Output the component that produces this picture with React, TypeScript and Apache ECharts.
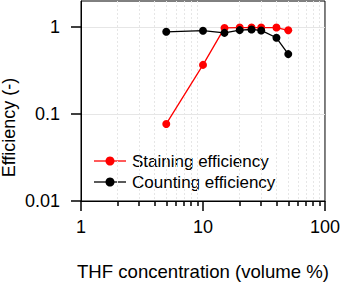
import React, { useEffect, useRef } from "react";
import * as echarts from "echarts";

const xValues = [5, 10, 15, 20, 25, 30, 40, 50];
const stainingEfficiency = [0.077, 0.368, 0.98, 0.99, 0.99, 0.99, 0.99, 0.92];
const countingEfficiency = [0.885, 0.91, 0.86, 0.924, 0.94, 0.917, 0.755, 0.49];
const xMajorTicks = [1, 10, 100];
const xMinorTicks = [2, 3, 4, 5, 6, 7, 8, 9, 20, 30, 40, 50, 60, 70, 80, 90];
const yTicks = [0.01, 0.1, 1];
const seriesNames = ["Staining efficiency", "Counting efficiency"];
const seriesColors = ["#ff0000", "#000000"];

const FONT = "'Liberation Sans', Arial, Helvetica, sans-serif";

export default function App() {
  const ref = useRef<HTMLDivElement>(null);
  useEffect(() => {
    if (!ref.current) return;
    const chart = echarts.init(ref.current, null, { renderer: "svg" });
    const pairs = (ys: number[]) => xValues.map((x, i) => [x, ys[i]]);

    const legendLeft = 94;
    const legendTop = 161;
    const legendRow = 21;
    const legendGraphics: any[] = [];
    seriesNames.forEach((name, i) => {
      const cy = legendTop + i * legendRow;
      legendGraphics.push(
        {
          type: "line",
          shape: { x1: legendLeft, y1: cy, x2: legendLeft + 32, y2: cy },
          style: { stroke: seriesColors[i], lineWidth: 1.3 },
        },
        {
          type: "circle",
          shape: { cx: legendLeft + 16, cy, r: 4.5 },
          style: { fill: seriesColors[i] },
        },
        {
          type: "text",
          x: legendLeft + 38,
          y: cy,
          style: {
            text: name,
            font: `17px ${FONT}`,
            fill: "#000",
            textAlign: "left",
            textVerticalAlign: "middle",
          },
        }
      );
    });

    chart.setOption({
      animation: false,
      backgroundColor: "#ffffff",
      textStyle: { fontFamily: FONT },
      grid: {
        left: 81,
        right: 17,
        top: 1,
        bottom: 83,
        show: true,
        borderColor: "#000000",
        borderWidth: 1,
      },
      xAxis: [
        {
          type: "log",
          logBase: 10,
          min: 1,
          max: 100,
          position: "bottom",
          axisLine: { show: true, onZero: false, lineStyle: { color: "#000", width: 1 } },
          axisTick: { show: true, length: 10, customValues: xMajorTicks, lineStyle: { color: "#000", width: 1.5 } },
          axisLabel: {
            customValues: xMajorTicks,
            fontSize: 18,
            color: "#000",
            margin: 17,
            fontFamily: FONT,
            formatter: (v: number) => String(v),
          },
          splitLine: { show: false },
          minorTick: { show: false },
          name: "THF concentration (volume %)",
          nameLocation: "middle",
          nameGap: 61,
          nameTextStyle: { fontSize: 18.6, color: "#000", fontFamily: FONT },
        },
        {
          type: "log",
          logBase: 10,
          min: 1,
          max: 100,
          position: "bottom",
          axisLine: { show: false, onZero: false },
          axisTick: { show: true, length: 5, customValues: xMinorTicks, lineStyle: { color: "#000", width: 1.5 } },
          axisLabel: { show: false },
          splitLine: { show: true, lineStyle: { color: "#e6e6e6", width: 1, type: [2, 2] } },
        },
      ],
      yAxis: {
        type: "log",
        logBase: 10,
        min: 0.01,
        max: 2,
        axisLine: { show: true, onZero: false, lineStyle: { color: "#000", width: 1 } },
        axisTick: { show: true, length: 10, customValues: yTicks, lineStyle: { color: "#000", width: 1.5 } },
        axisLabel: {
          customValues: yTicks,
          fontSize: 18,
          color: "#000",
          margin: 21,
          fontFamily: FONT,
          formatter: (v: number) => String(v),
        },
        splitLine: { show: true, lineStyle: { color: "#e6e6e6", width: 1 } },
      },
      graphic: [
        {
          type: "text",
          x: 9,
          y: 127.5,
          rotation: Math.PI / 2,
          style: {
            text: "Efficiency (-)",
            font: `18px ${FONT}`,
            fill: "#000",
            textAlign: "center",
            textVerticalAlign: "middle",
          },
        },
        ...legendGraphics,
      ],
      series: [
        {
          name: seriesNames[0],
          type: "line",
          xAxisIndex: 0,
          data: pairs(stainingEfficiency),
          symbol: "circle",
          symbolSize: 8,
          color: seriesColors[0],
          lineStyle: { color: seriesColors[0], width: 1.3 },
          itemStyle: { color: seriesColors[0] },
        },
        {
          name: seriesNames[1],
          type: "line",
          xAxisIndex: 0,
          data: pairs(countingEfficiency),
          symbol: "circle",
          symbolSize: 8,
          color: seriesColors[1],
          lineStyle: { color: seriesColors[1], width: 1.3 },
          itemStyle: { color: seriesColors[1] },
        },
      ],
    });
    return () => chart.dispose();
  }, []);
  return (
    <div
      ref={ref}
      style={{ position: "absolute", left: 0, top: 0, width: 343, height: 286 }}
    />
  );
}
